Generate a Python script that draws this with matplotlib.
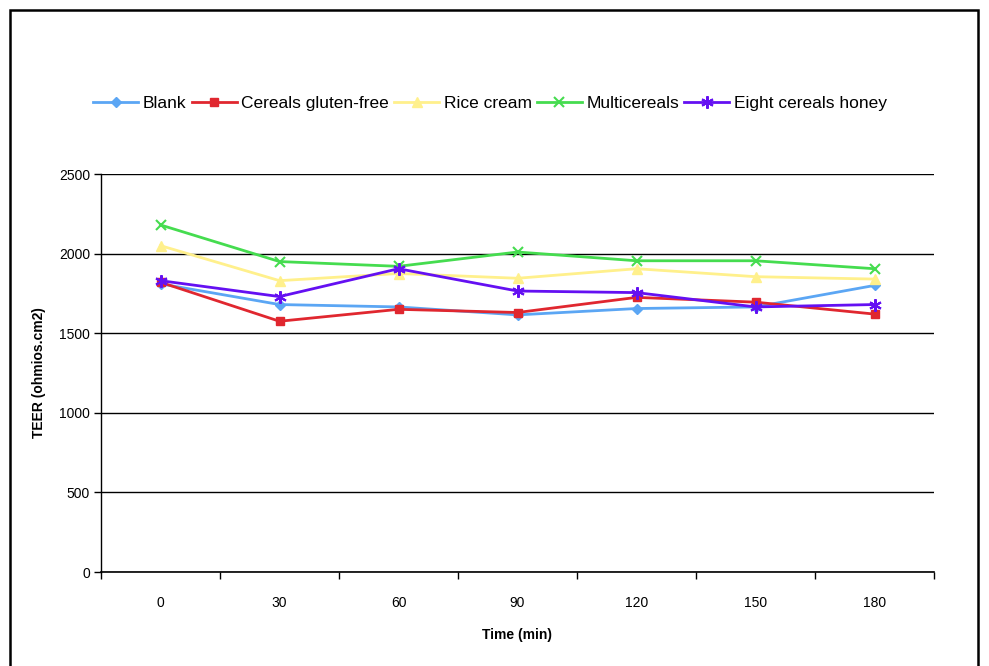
import matplotlib
matplotlib.use('Agg')
import matplotlib.pyplot as plt
from matplotlib.patches import Rectangle
import numpy as np

plt.rcParams['font.family'] = ['Liberation Sans', 'DejaVu Sans']

times = ['0', '30', '60', '90', '120', '150', '180']
blank = [1810, 1680, 1665, 1615, 1655, 1665, 1800]
gluten_free = [1820, 1575, 1650, 1630, 1725, 1695, 1620]
rice_cream = [2050, 1830, 1875, 1845, 1905, 1855, 1840]
multicereals = [2180, 1950, 1920, 2010, 1955, 1955, 1905]
eight_cereals = [1830, 1730, 1905, 1765, 1755, 1665, 1680]

series = [
    ('Blank', blank, '#5ba6f4', 'D', 5),
    ('Cereals gluten-free', gluten_free, '#e0272f', 's', 5.5),
    ('Rice cream', rice_cream, '#fff08c', '^', 7),
    ('Multicereals', multicereals, '#45dc4f', 'x', 7),
    ('Eight cereals honey', eight_cereals, '#6410f2', (6, 2, 0), 9),
]

W, H = 989, 666
fig = plt.figure(figsize=(W / 100, H / 100), dpi=100)
fig.patches.append(Rectangle((10 / W, -0.05), 968 / W, 1.05 - 10 / H,
                             transform=fig.transFigure, fill=False,
                             edgecolor='black', linewidth=1.8))

ax = fig.add_axes([101 / W, 1 - 572 / H, (934 - 101) / W, (572 - 174) / H])
x = np.arange(len(times))
for name, vals, color, marker, ms in series:
    ax.plot(x, vals, color=color, marker=marker, markersize=ms, linewidth=2,
            markeredgewidth=1.5 if marker in ('x', (6, 2, 0)) else 1,
            markeredgecolor=color, label=name)

ax.set_xlim(-0.5, len(times) - 0.5)
ax.set_ylim(0, 2500)
ax.set_yticks(np.arange(0, 2501, 500))
ax.yaxis.grid(True, color='black', linewidth=1)
ax.set_axisbelow(True)
ax.set_xticks(np.arange(-0.5, len(times)), labels=[''] * (len(times) + 1))
ax.set_xticks(x, labels=times, minor=True)
ax.tick_params(axis='x', which='major', direction='out', length=5, width=1)
ax.tick_params(axis='x', which='minor', length=0, pad=17, labelsize=10)
ax.tick_params(axis='y', direction='out', length=5, width=1, labelsize=10, pad=3)
for s in ('top', 'right'):
    ax.spines[s].set_visible(False)
ax.spines['bottom'].set_linewidth(1.2)
ax.spines['left'].set_linewidth(1)

ax.set_xlabel('Time (min)', fontweight='bold', fontsize=10, labelpad=13)
ax.set_ylabel('TEER (ohmios.cm2)', fontweight='bold', fontsize=10, labelpad=9)

fig.legend(loc='center', bbox_to_anchor=(490 / W, 1 - 103 / H), ncol=5,
           frameon=False, fontsize=12.5, handlelength=2.6, handletextpad=0.25,
           columnspacing=0.3)

fig.savefig('out.png', dpi=100)
